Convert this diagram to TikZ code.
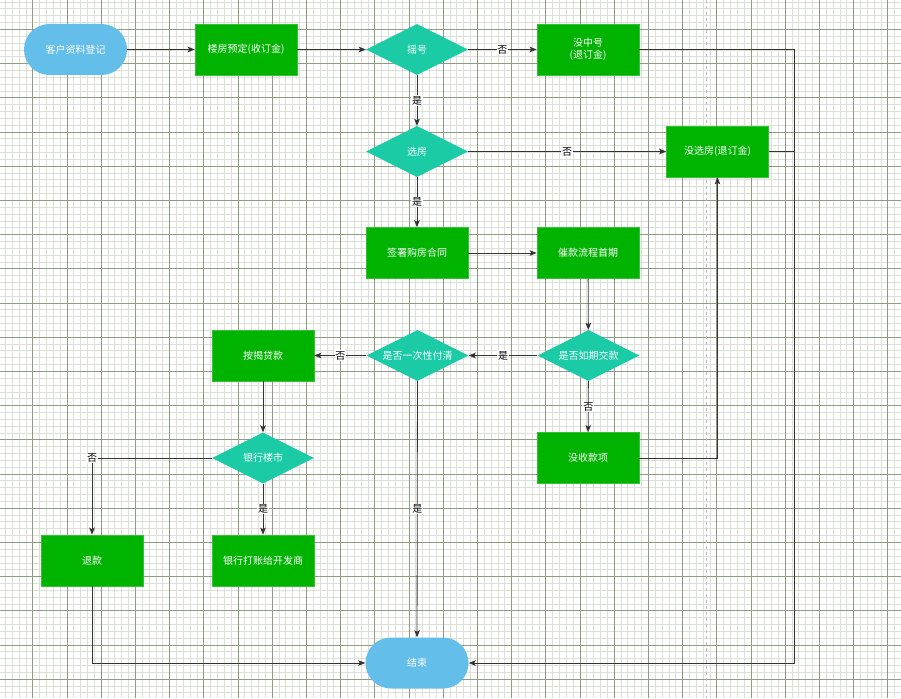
\documentclass[tikz,border=0pt]{standalone}
\usepackage{fontspec}
\setmainfont{Noto Sans CJK SC}
\usetikzlibrary{shapes.geometric,arrows.meta}
\definecolor{gmaj}{HTML}{8E9C80}
\definecolor{gmin}{HTML}{DDE0D6}
\definecolor{boxgreen}{HTML}{00B300}
\definecolor{boxedge}{HTML}{33C233}
\definecolor{dteal}{HTML}{1ACBA6}
\definecolor{sblue}{HTML}{64BEEA}
\definecolor{linec}{HTML}{333333}
\begin{document}
\begin{tikzpicture}[x=1pt,y=-1pt,
  txt/.style={text=white,font=\fontsize{10}{12}\selectfont},
  proc/.style={rectangle,fill=boxgreen,draw=boxedge,line width=0.6pt,minimum width=102pt,minimum height=51pt,inner sep=0pt,align=center,txt},
  dec/.style={diamond,fill=dteal,minimum width=102pt,minimum height=51pt,inner sep=0pt},
  term/.style={rectangle,rounded corners=25.5pt,fill=sblue,minimum width=103pt,minimum height=51pt,inner sep=0pt,txt},
  arr/.style={draw=linec,line width=0.8pt,-{Stealth[length=7pt,width=5.5pt,inset=1.5pt]}},
  plainline/.style={draw=linec,line width=0.8pt},
  lab/.style={fill=white,inner sep=0.8pt,text=black,font=\fontsize{10}{12}\selectfont}
]
\useasboundingbox (0,0) rectangle (901,698);
\fill[white] (0,0) rectangle (901,698);
% grid
\foreach \i in {0,...,131} {\draw[gmin,line width=0.6pt] ({5.34+\i*6.84},0) -- ++(0,698);}
\foreach \i in {0,...,101} {\draw[gmin,line width=0.6pt] (0,{1.94+\i*6.84}) -- ++(901,0);}
\foreach \i in {0,...,25} {\draw[gmaj,line width=0.8pt] ({32.7+\i*34.2},0) -- ++(0,698);}
\foreach \i in {0,...,19} {\draw[gmaj,line width=0.8pt] (0,{29.3+\i*34.2}) -- ++(901,0);}
\draw[gray!50,dashed,line width=0.6pt] (706.7,0) -- (706.7,698);

% nodes
\node[term] (n1) at (75.5,49.5) {客户资料登记};
\node[proc] (n2) at (246,49.5) {楼房预定(收订金)};
\node[dec,label={[txt]center:摇号}] (n3) at (417,49.5) {};
\node[proc] (n4) at (588,49.5) {没中号\\(退订金)};
\node[dec,label={[txt]center:选房}] (n5) at (417,151.5) {};
\node[proc] (n6) at (717.5,151.5) {没选房(退订金)};
\node[proc] (n7) at (417,253) {签署购房合同};
\node[proc] (n8) at (588,253) {催款流程首期};
\node[dec,label={[txt]center:是否如期交款}] (n9) at (588.5,355.5) {};
\node[dec,label={[txt]center:是否一次性付清}] (n10) at (417.5,355.5) {};
\node[proc] (n11) at (263,355.5) {按揭贷款};
\node[proc] (n12) at (588,458) {没收款项};
\node[dec,label={[txt]center:银行楼市}] (n13) at (263,458) {};
\node[proc] (n14) at (92,560.5) {退款};
\node[proc] (n15) at (263,560.5) {银行打账给开发商};
\node[term] (n16) at (417,663) {结束};
\coordinate (rx) at (794,663);

% edges
\draw[arr] (n1) -- (n2);
\draw[arr] (n2) -- (n3);
\draw[arr] (n3) -- node[lab]{否} (n4);
\draw[arr] (n3) -- node[lab]{是} (n5);
\draw[arr] (n5) -- node[lab]{否} (n6);
\draw[arr] (n5) -- node[lab]{是} (n7);
\draw[arr] (n7) -- (n8);
\draw[arr] (n8) -- (n9);
\draw[arr] (n9) -- node[lab]{是} (n10);
\draw[arr] (n10) -- node[lab]{否} (n11);
\draw[arr] (n9) -- node[lab]{否} (n12);
\draw[arr] (n12.east) -| (n6.south);
\draw[arr] (n11) -- (n13);
\draw[arr] (n13.west) -| node[lab,pos=0.5]{否} (n14.north);
\draw[arr] (n13) -- node[lab]{是} (n15);
\draw[arr] (n10) -- node[lab]{是} (n16);
\draw[arr] (n14.south) |- (n16.west);
\draw[arr] (n4.east) -| (rx) -- (n16.east);
\draw[plainline] (n6.east) -- (n6.east -| rx);
\end{tikzpicture}
\end{document}
